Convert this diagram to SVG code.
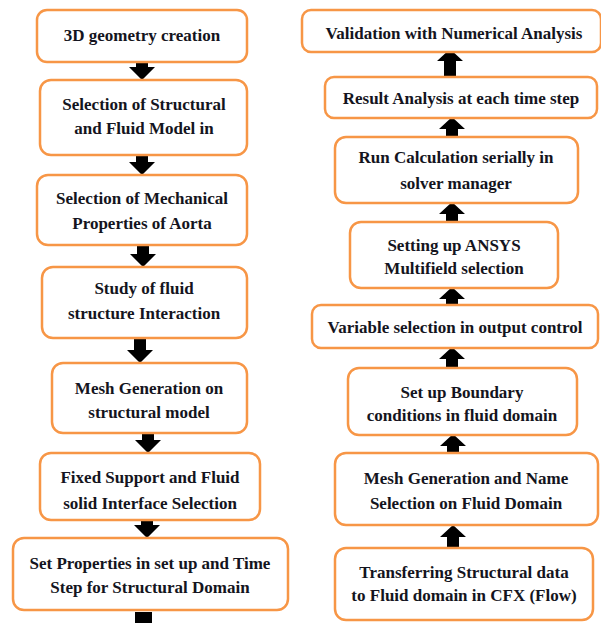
<svg xmlns="http://www.w3.org/2000/svg" width="601" height="623" viewBox="0 0 601 623">
<style>
.box{fill:#fff;stroke:#F79646;stroke-width:2.5}
.t{font-family:"Liberation Serif","Times New Roman",serif;font-weight:bold;font-size:17px;fill:#141420;text-anchor:middle}
.arr{fill:#000}
</style>
<rect width="601" height="623" fill="#fff"/>
<g id="connectors">
<polygon class="arr" points="136,62 148,62 148,67 155,67 142,80 129,67 136,67"/>
<polygon class="arr" points="136,155 148,155 148,162 155,162 142,175 129,162 136,162"/>
<polygon class="arr" points="137,245 149,245 149,254 156,254 143,267 130,254 137,254"/>
<polygon class="arr" points="134,338 146,338 146,350 153,350 140,363 127,350 134,350"/>
<polygon class="arr" points="142,433 154,433 154,440 161,440 148,453 135,440 142,440"/>
<polygon class="arr" points="141,520 153,520 153,525 160,525 147,538 134,525 141,525"/>
<rect class="arr" x="135" y="612" width="17" height="11"/>
<polygon class="arr" points="444,77 456,77 456,61 463,61 450,49 437,61 444,61"/>
<polygon class="arr" points="446,137 458,137 458,129 465,129 452,117 439,129 446,129"/>
<polygon class="arr" points="446,222 458,222 458,214 465,214 452,202 439,214 446,214"/>
<polygon class="arr" points="446,305 458,305 458,299 465,299 452,287 439,299 446,299"/>
<polygon class="arr" points="446,368 458,368 458,359 465,359 452,347 439,359 446,359"/>
<polygon class="arr" points="447,453 459,453 459,446 466,446 453,434 440,446 447,446"/>
<polygon class="arr" points="447,548 459,548 459,537 466,537 453,525 440,537 447,537"/>
</g>
<g id="n1"><rect class="box" x="37" y="10" width="210" height="52" rx="10"/><text class="t" x="142" y="41">3D geometry creation</text></g>
<g id="n2"><rect class="box" x="40" y="80" width="207" height="75" rx="11"/><text class="t" x="144" y="110">Selection of Structural</text><text class="t" x="144" y="134">and Fluid Model in</text></g>
<g id="n3"><rect class="box" x="37" y="175" width="210" height="70" rx="11"/><text class="t" x="142" y="204">Selection of Mechanical</text><text class="t" x="142" y="229">Properties of Aorta</text></g>
<g id="n4"><rect class="box" x="42" y="267" width="205" height="71" rx="11"/><text class="t" x="144" y="294">Study of fluid</text><text class="t" x="144" y="319">structure Interaction</text></g>
<g id="n5"><rect class="box" x="52" y="363" width="195" height="70" rx="11"/><text class="t" x="149" y="394">Mesh Generation on</text><text class="t" x="149" y="418">structural model</text></g>
<g id="n6"><rect class="box" x="40" y="453" width="220" height="67" rx="11"/><text class="t" x="150" y="483">Fixed Support and Fluid</text><text class="t" x="150" y="509">solid Interface Selection</text></g>
<g id="n7"><rect class="box" x="13" y="538" width="275" height="72" rx="11"/><text class="t" x="150" y="569">Set Properties in set up and Time</text><text class="t" x="150" y="593">Step for Structural Domain</text></g>
<g id="n8"><rect class="box" x="302" y="10" width="299" height="42" rx="9"/><text class="t" x="454" y="39">Validation with Numerical Analysis</text></g>
<g id="n9"><rect class="box" x="325" y="77" width="272" height="41" rx="9"/><text class="t" x="461" y="104">Result Analysis at each time step</text></g>
<g id="n10"><rect class="box" x="335" y="137" width="243" height="66" rx="11"/><text class="t" x="456" y="163">Run Calculation serially in</text><text class="t" x="456" y="189">solver manager</text></g>
<g id="n11"><rect class="box" x="350" y="222" width="208" height="66" rx="11"/><text class="t" x="454" y="251">Setting up ANSYS</text><text class="t" x="454" y="274">Multifield selection</text></g>
<g id="n12"><rect class="box" x="312" y="305" width="286" height="43" rx="9"/><text class="t" x="455" y="333">Variable selection in output control</text></g>
<g id="n13"><rect class="box" x="348" y="368" width="229" height="67" rx="11"/><text class="t" x="462" y="398">Set up Boundary</text><text class="t" x="462" y="421">conditions in fluid domain</text></g>
<g id="n14"><rect class="box" x="335" y="453" width="263" height="72" rx="11"/><text class="t" x="466" y="484">Mesh Generation and Name</text><text class="t" x="466" y="509">Selection on Fluid Domain</text></g>
<g id="n15"><rect class="box" x="335" y="548" width="258" height="72" rx="11"/><text class="t" x="464" y="578">Transferring Structural data</text><text class="t" x="464" y="601">to Fluid domain in CFX (Flow)</text></g>
</svg>
